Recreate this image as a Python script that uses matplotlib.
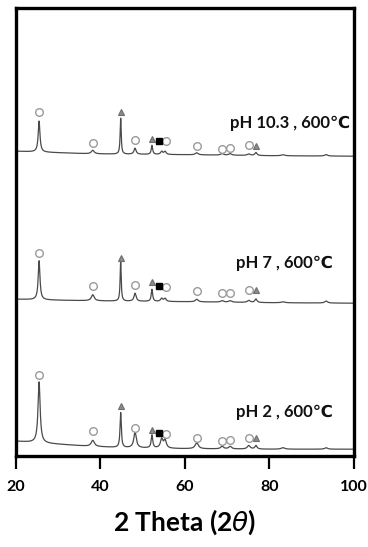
import numpy as np
import matplotlib.pyplot as plt

# XRD peak list (2 theta, degrees) shared by the three samples
peak_pos = [25.5, 38.2, 44.8, 48.2, 52.2, 54.5, 55.3, 62.8, 68.8, 70.7, 75.1, 76.8, 83.2, 93.4]

# peak heights above background for each sample
h_ph103 = [31, 3.5, 36, 6, 9, 3, 3, 2, 1.5, 1.5, 1.5, 3, 1, 1.5]
h_ph7 = [39, 6, 40, 8, 12, 3, 3, 2.5, 1.5, 1.5, 2, 3.5, 1, 2]
h_ph2 = [61, 6, 35, 16, 13, 9, 8, 6, 2.5, 2.5, 3.5, 3.5, 1.5, 1.5]

# peak half widths (degrees)
w_ph103 = [0.25, 0.4, 0.15, 0.3, 0.2, 0.3, 0.3, 0.4, 0.4, 0.4, 0.4, 0.3, 0.5, 0.4]
w_ph7 = [0.25, 0.4, 0.15, 0.3, 0.2, 0.3, 0.3, 0.4, 0.4, 0.4, 0.4, 0.3, 0.5, 0.4]
w_ph2 = [0.3, 0.45, 0.18, 0.35, 0.22, 0.35, 0.35, 0.45, 0.4, 0.4, 0.4, 0.3, 0.5, 0.4]

# background level (offset stacked) at a few angles
bg_x = [20, 30, 37, 45, 60, 80, 100]
bg_ph103 = [305, 303.5, 302.5, 302, 301.5, 300.5, 300]
bg_ph7 = [157, 156, 155.5, 155, 154.5, 153.5, 153]
bg_ph2 = [15, 12, 10, 8.5, 7.5, 7, 7]

# phase markers: (2 theta, height) -- o anatase, ^ second phase, s third phase
circ_x = [25.5, 38.2, 48.2, 55.5, 62.8, 68.8, 70.7, 75.1]
circ_ph103 = [344, 313, 316, 315, 310, 307, 308, 311]
circ_ph7 = [203, 170, 171, 169, 165, 163, 163, 166]
circ_ph2 = [81, 25, 28, 22, 18, 15, 16, 18]
tri_x = [44.8, 52.2, 76.8]
tri_ph103 = [344, 317, 310]
tri_ph7 = [198, 174, 166]
tri_ph2 = [50, 26, 18]
sq_x = [53.9]
sq_ph103 = [315]
sq_ph7 = [170]
sq_ph2 = [23]

labels = ['pH 10.3 , 600\u2103', 'pH 7 , 600\u2103', 'pH 2 , 600\u2103']
label_y = [333, 193, 44]
label_x = [99, 95, 95]

tt = np.linspace(20, 100, 4000)


def pattern(h, w, bg):
    y = np.interp(tt, bg_x, bg)
    for p, a, g in zip(peak_pos, h, w):
        y = y + a / (1 + ((tt - p) / g) ** 2)
    return y


fig = plt.figure(figsize=(3.68, 5.47), dpi=100)
ax = fig.add_axes([0.043, 0.166, 0.919, 0.819])

series = [(h_ph103, w_ph103, bg_ph103), (h_ph7, w_ph7, bg_ph7), (h_ph2, w_ph2, bg_ph2)]
for h, w, bg in series:
    ax.plot(tt, pattern(h, w, bg), color='#4a4a4a', lw=0.9)

for cy in (circ_ph103, circ_ph7, circ_ph2):
    ax.plot(circ_x, cy, 'o', ms=5.5, mfc='white', mec='#9a9a9a', mew=1.0, ls='none')
for ty in (tri_ph103, tri_ph7, tri_ph2):
    ax.plot(tri_x, ty, '^', ms=5, mfc='#8c8c8c', mec='#6e6e6e', mew=0.8, ls='none')
for sy in (sq_ph103, sq_ph7, sq_ph2):
    ax.plot(sq_x, sy, 's', ms=5, mfc='black', mec='black', ls='none')

for t, x, y in zip(labels, label_x, label_y):
    ax.text(x, y, t, ha='right', va='center', fontsize=12, fontweight='bold',
            family=['Lato', 'DejaVu Sans'], color='#111111')

ax.set_xlim(20, 100)
ax.set_ylim(0, 448)
ax.set_yticks([])
ax.set_xticks([20, 40, 60, 80, 100])
ax.tick_params(axis='x', direction='out', length=9, width=1.6, pad=8, labelsize=11.5)
for lab in ax.get_xticklabels():
    lab.set_fontweight('bold')
    lab.set_family(['Lato', 'DejaVu Sans'])
for s in ax.spines.values():
    s.set_linewidth(2.4)
ax.set_xlabel('2 Theta (2$\\theta$)', fontsize=19, fontweight='bold',
              family=['Lato', 'DejaVu Sans'], labelpad=10)

fig.savefig('out.png', dpi=100)
